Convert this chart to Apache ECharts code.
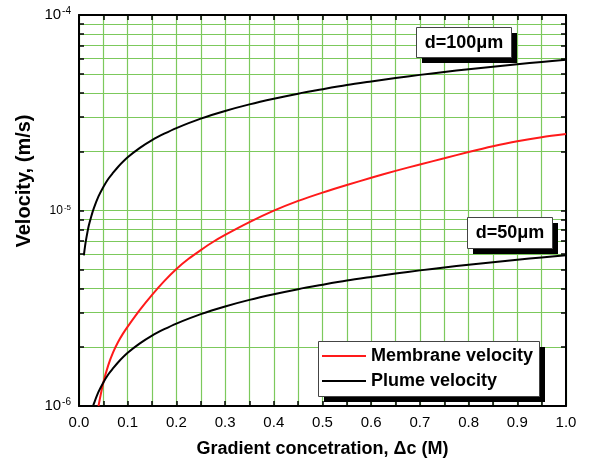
<!DOCTYPE html>
<html>
<head>
<meta charset="utf-8">
<script src="https://cdn.jsdelivr.net/npm/echarts@6/dist/echarts.min.js"></script>
<style>
html,body{margin:0;padding:0;background:#fff;}
#chart{width:592px;height:463px;}
</style>
</head>
<body>
<div id="chart"></div>
<script>
// ---- data ----
const plumeX = [0.01,0.0125,0.015,0.02,0.025,0.03,0.04,0.05,0.06,0.07,0.08,0.1,0.125,0.15,0.175,0.2,0.25,0.3,0.35,0.4,0.45,0.5,0.55,0.6,0.65,0.7,0.75,0.8,0.85,0.9,0.95,1.0];
const plume100 = [5.9e-6,6.6e-6,7.2e-6,8.35e-6,9.3e-6,1.02e-5,1.18e-5,1.32e-5,1.45e-5,1.56e-5,1.67e-5,1.87e-5,2.09e-5,2.29e-5,2.47e-5,2.64e-5,2.95e-5,3.23e-5,3.49e-5,3.73e-5,3.96e-5,4.17e-5,4.38e-5,4.57e-5,4.76e-5,4.94e-5,5.11e-5,5.28e-5,5.44e-5,5.6e-5,5.75e-5,5.9e-5];
const plume50X = [0.029,0.03,0.04,0.05,0.06,0.07,0.08,0.1,0.125,0.15,0.175,0.2,0.25,0.3,0.35,0.4,0.45,0.5,0.55,0.6,0.65,0.7,0.75,0.8,0.85,0.9,0.95,1.0];
const plume50 = [1.0e-6,1.02e-6,1.18e-6,1.32e-6,1.45e-6,1.56e-6,1.67e-6,1.87e-6,2.09e-6,2.29e-6,2.47e-6,2.64e-6,2.95e-6,3.23e-6,3.49e-6,3.73e-6,3.96e-6,4.17e-6,4.38e-6,4.57e-6,4.76e-6,4.94e-6,5.11e-6,5.28e-6,5.44e-6,5.6e-6,5.75e-6,5.9e-6];
const membraneX = [0.04,0.05,0.06,0.07,0.08,0.09,0.1,0.125,0.15,0.175,0.2,0.225,0.25,0.275,0.3,0.35,0.4,0.45,0.5,0.55,0.6,0.65,0.7,0.75,0.8,0.85,0.9,0.95,1.0];
const membrane = [1.0e-6,1.318e-6,1.614e-6,1.879e-6,2.118e-6,2.339e-6,2.547e-6,3.1e-6,3.7e-6,4.35e-6,5.02e-6,5.66e-6,6.27e-6,6.9e-6,7.5e-6,8.72e-6,9.98e-6,1.12e-5,1.235e-5,1.35e-5,1.47e-5,1.595e-5,1.72e-5,1.85e-5,1.99e-5,2.13e-5,2.26e-5,2.37e-5,2.46e-5];
const yTickVals = [1e-6,2e-6,3e-6,4e-6,5e-6,6e-6,7e-6,8e-6,9e-6,1e-5,2e-5,3e-5,4e-5,5e-5,6e-5,7e-5,8e-5,9e-5,1e-4];
const yLabelVals = [1e-6,1e-5,1e-4];
const legendNames = ['Membrane velocity','Plume velocity'];
const xTitle = 'Gradient concetration, \u0394c (M)';
const yTitle = 'Velocity, (m/s)';
const note100 = 'd=100\u03bcm';
const note50 = 'd=50\u03bcm';

const FONT = '"Liberation Sans", Arial, Helvetica, sans-serif';
const GREEN = '#7cc95c';
const pairs = (xs, ys) => xs.map((x, i) => [x, ys[i]]);

const chart = echarts.init(document.getElementById('chart'), null, {renderer: 'canvas'});

const yLabelFmt = v => {
  const e = Math.round(Math.log10(v));
  return e === -5 ? '{sb|10}{ss|' + e + '}' : '{b|10}{s|' + e + '}';
};

const lineIcon = 'path://M0,0H44V2H0Z';

const option = {
  backgroundColor: '#fff',
  animation: false,
  textStyle: {fontFamily: FONT},
  grid: {left: 79, right: 26, top: 15, bottom: 56, containLabel: false},
  xAxis: [{
    type: 'value', min: 0, max: 1, interval: 0.1, position: 'bottom',
    axisLine: {show: true, onZero: false, lineStyle: {color: '#000', width: 2}},
    axisTick: {show: true, inside: true, length: 5, lineStyle: {color: '#000', width: 1.5}},
    minorTick: {show: true, splitNumber: 2, length: 5, lineStyle: {color: '#000', width: 1.5}},
    splitLine: {show: true, lineStyle: {color: GREEN, width: 1.2}},
    minorSplitLine: {show: true, lineStyle: {color: GREEN, width: 1.2}},
    axisLabel: {color: '#000', fontSize: 15, fontFamily: FONT, margin: 9, formatter: v => v.toFixed(1)},
    name: xTitle, nameLocation: 'middle', nameGap: 34,
    nameTextStyle: {color: '#000', fontSize: 18, fontWeight: 'bold', fontFamily: FONT}
  }, {
    type: 'value', min: 0, max: 1, interval: 0.1, position: 'top',
    axisLine: {show: true, onZero: false, lineStyle: {color: '#000', width: 2}},
    axisTick: {show: true, inside: true, length: 5, lineStyle: {color: '#000', width: 1.5}},
    minorTick: {show: true, splitNumber: 2, length: 5, lineStyle: {color: '#000', width: 1.5}},
    splitLine: {show: false}, axisLabel: {show: false}
  }],
  yAxis: [{
    type: 'log', logBase: 10, min: 1e-6, max: 1e-4, position: 'left',
    axisLine: {show: true, onZero: false, lineStyle: {color: '#000', width: 2}},
    axisTick: {show: true, inside: true, length: 5, customValues: yTickVals, lineStyle: {color: '#000', width: 1.5}},
    splitLine: {show: true, lineStyle: {color: GREEN, width: 1.2}},
    axisLabel: {
      customValues: yLabelVals, color: '#000', margin: 8, formatter: yLabelFmt,
      rich: {
        b: {fontSize: 15, fontFamily: FONT, color: '#000', lineHeight: 17},
        s: {fontSize: 10, fontFamily: FONT, color: '#000', verticalAlign: 'top', lineHeight: 10, padding: [0, 0, 0, 1]},
        sb: {fontSize: 12, fontFamily: FONT, color: '#000', lineHeight: 14},
        ss: {fontSize: 8, fontFamily: FONT, color: '#000', verticalAlign: 'top', lineHeight: 8, padding: [0, 0, 0, 1]}
      }
    }
  }, {
    type: 'log', logBase: 10, min: 1e-6, max: 1e-4, position: 'right',
    axisLine: {show: true, onZero: false, lineStyle: {color: '#000', width: 2}},
    axisTick: {show: true, inside: true, length: 5, customValues: yTickVals, lineStyle: {color: '#000', width: 1.5}},
    splitLine: {show: false}, axisLabel: {show: false}
  }],
  legend: {
    show: true, orient: 'vertical', left: 318, top: 341, padding: [6, 6, 6, 4],
    itemWidth: 44, itemHeight: 18, itemGap: 7, z: 20, symbolKeepAspect: true,
    textStyle: {color: '#000', fontSize: 18, fontWeight: 'bold', fontFamily: FONT},
    data: legendNames.map(n => ({name: n, icon: lineIcon}))
  },
  series: [{
    name: legendNames[0], type: 'line', data: pairs(membraneX, membrane),
    showSymbol: false, symbol: 'none', smooth: 0.3, z: 3,
    lineStyle: {color: '#ff1a1a', width: 2}, itemStyle: {color: '#ff1a1a'}
  }, {
    name: legendNames[1], type: 'line', data: pairs(plumeX, plume100),
    showSymbol: false, symbol: 'none', smooth: 0.3, z: 3,
    lineStyle: {color: '#000', width: 2}, itemStyle: {color: '#000'}
  }, {
    name: legendNames[1], type: 'line', data: pairs(plume50X, plume50),
    showSymbol: false, symbol: 'none', smooth: 0.3, z: 3,
    lineStyle: {color: '#000', width: 2}, itemStyle: {color: '#000'}
  }],
  graphic: [
    {type: 'text', x: 24, y: 181, rotation: Math.PI / 2, z: 10,
     style: {text: yTitle, fill: '#000', font: 'bold 20px ' + FONT, align: 'center', verticalAlign: 'middle'}},
    {type: 'rect', z: 10, shape: {x: 324, y: 347, width: 221, height: 55}, style: {fill: '#000'}},
    {type: 'rect', z: 11, shape: {x: 318.5, y: 341.5, width: 221, height: 55}, style: {fill: '#fff', stroke: '#444', lineWidth: 1}},
    {type: 'rect', z: 10, shape: {x: 422, y: 33, width: 95, height: 30}, style: {fill: '#000'}},
    {type: 'rect', z: 11, shape: {x: 416.5, y: 27.5, width: 95, height: 30}, style: {fill: '#fff', stroke: '#444', lineWidth: 1}},
    {type: 'text', z: 12, x: 464, y: 43, style: {text: note100, fill: '#000', font: 'bold 18px ' + FONT, align: 'center', verticalAlign: 'middle'}},
    {type: 'rect', z: 10, shape: {x: 473, y: 223, width: 85, height: 31}, style: {fill: '#000'}},
    {type: 'rect', z: 11, shape: {x: 467.5, y: 217.5, width: 85, height: 31}, style: {fill: '#fff', stroke: '#444', lineWidth: 1}},
    {type: 'text', z: 12, x: 510, y: 233, style: {text: note50, fill: '#000', font: 'bold 18px ' + FONT, align: 'center', verticalAlign: 'middle'}}
  ]
};
chart.setOption(option);
</script>
</body>
</html>
